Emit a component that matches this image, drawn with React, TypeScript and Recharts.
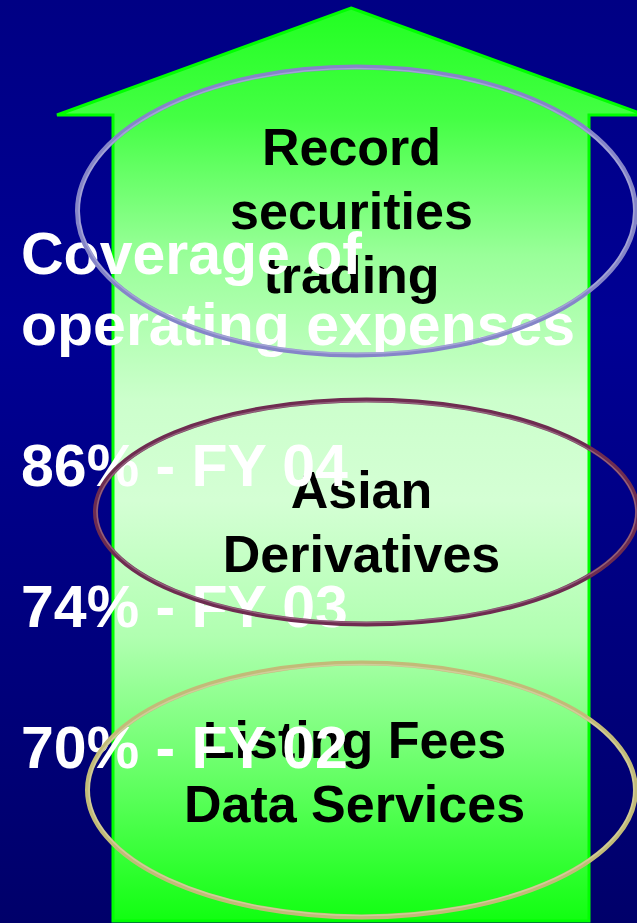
import { ComposedChart, Scatter, XAxis, YAxis, Customized } from "recharts"

const W = 637
const H = 923

const STREAMS = ["Record securities trading", "Asian Derivatives", "Listing Fees Data Services"]
const STREAM_LINES = [
  ["Record", "securities", "trading"],
  ["Asian", "Derivatives"],
  ["Listing Fees", "Data Services"],
]
const HEADING = ["Coverage of", "operating expenses"]
const COVERAGE = [86, 74, 70]
const FISCAL_YEARS = ["FY 04", "FY 03", "FY 02"]

const FONT = "'Liberation Sans', Arial, Helvetica, sans-serif"

// ring tweaks relative to the category point, plus where the first label line sits
const RINGS = [
  { dx: -2, dy: 5, rx: 279, ry: 144, stroke: "#8585c8", textDx: -5, textDy: -46 },
  { dx: 8, dy: 14, rx: 271, ry: 112, stroke: "#6e2c50", textDx: -5, textDy: -4 },
  { dx: 3, dy: 0, rx: 274, ry: 127, stroke: "#c2bb78", textDx: -7, textDy: -32 },
]
const LABEL_STEP = 64

const chartData = STREAMS.map((name, i) => ({ name, mid: 1, lines: STREAM_LINES[i] }))

function Arrow() {
  const tipX = 351
  const tipY = 8
  const headY = 115
  const headHalf = 294
  const shaftL = 113
  const shaftR = 589
  const bottom = 921
  const d = `M${tipX},${tipY} L${tipX + headHalf},${headY} L${shaftR},${headY} L${shaftR},${bottom} L${shaftL},${bottom} L${shaftL},${headY} L${tipX - headHalf},${headY} Z`
  return (
    <g>
      <defs>
        <linearGradient id="arrowFill" gradientUnits="userSpaceOnUse" x1="0" y1={tipY} x2="0" y2={bottom}>
          <stop offset="0" stopColor="#22ff22" />
          <stop offset="0.12" stopColor="#44ff44" />
          <stop offset="0.27" stopColor="#99ff99" />
          <stop offset="0.43" stopColor="#ccffcc" />
          <stop offset="0.54" stopColor="#d4ffd4" />
          <stop offset="0.69" stopColor="#b0ffb0" />
          <stop offset="0.84" stopColor="#66ff66" />
          <stop offset="1" stopColor="#11ff11" />
        </linearGradient>
      </defs>
      <path d={d} fill="url(#arrowFill)" stroke="#00ff00" strokeWidth={3} strokeLinejoin="miter" />
    </g>
  )
}

// white text block on the left, sits above the black labels but under the rings
function Coverage() {
  const x = 21
  const first = 274
  const lh = 70.5
  const rows = [
    ...HEADING,
    "",
    ...COVERAGE.flatMap((v, i) => [`${v}% - ${FISCAL_YEARS[i]}`, ""]),
  ]
  return (
    <g>
      {rows.map((t, i) =>
        t ? (
          <text key={i} x={x} y={first + i * lh} fill="#ffffff" fontFamily={FONT} fontWeight="bold" fontSize={59}>
            {t}
          </text>
        ) : null
      )}
    </g>
  )
}

function StreamLabel(props: any) {
  const { cx, cy, payload } = props
  const idx = STREAMS.indexOf(payload.name)
  const r = RINGS[idx]
  return (
    <g>
      {payload.lines.map((t: string, k: number) => (
        <text
          key={k}
          x={cx + r.dx + r.textDx}
          y={cy + r.dy + r.textDy + k * LABEL_STEP}
          textAnchor="middle"
          fill="#000000"
          fontFamily={FONT}
          fontWeight="bold"
          fontSize={52}
        >
          {t}
        </text>
      ))}
      {idx === STREAMS.length - 1 && <Coverage />}
    </g>
  )
}

function Ring(props: any) {
  const { cx, cy, payload } = props
  const r = RINGS[STREAMS.indexOf(payload.name)]
  return (
    <g>
      <ellipse cx={cx + r.dx} cy={cy + r.dy} rx={r.rx} ry={r.ry} fill="none" stroke={r.stroke} strokeWidth={5} />
      <ellipse cx={cx + r.dx} cy={cy + r.dy} rx={r.rx - 1.5} ry={r.ry - 1.5} fill="none" stroke="#ffffff" strokeOpacity={0.25} strokeWidth={1.5} />
    </g>
  )
}

export default function App() {
  return (
    <div
      style={{
        position: "absolute",
        left: 0,
        top: 0,
        width: W,
        height: H,
        background: "linear-gradient(180deg, #000084 0%, #000094 35%, #00006a 100%)",
      }}
    >
      <ComposedChart
        width={W}
        height={H}
        layout="vertical"
        data={chartData}
        margin={{ top: 206, right: 0, bottom: 133, left: 80 }}
      >
        <XAxis type="number" dataKey="mid" domain={[0, 2]} hide />
        <YAxis type="category" dataKey="name" hide />
        <Customized component={<Arrow />} />
        <Scatter dataKey="mid" shape={(p: any) => <StreamLabel {...p} />} isAnimationActive={false} />
        <Scatter dataKey="mid" shape={(p: any) => <Ring {...p} />} isAnimationActive={false} />
      </ComposedChart>
    </div>
  )
}
